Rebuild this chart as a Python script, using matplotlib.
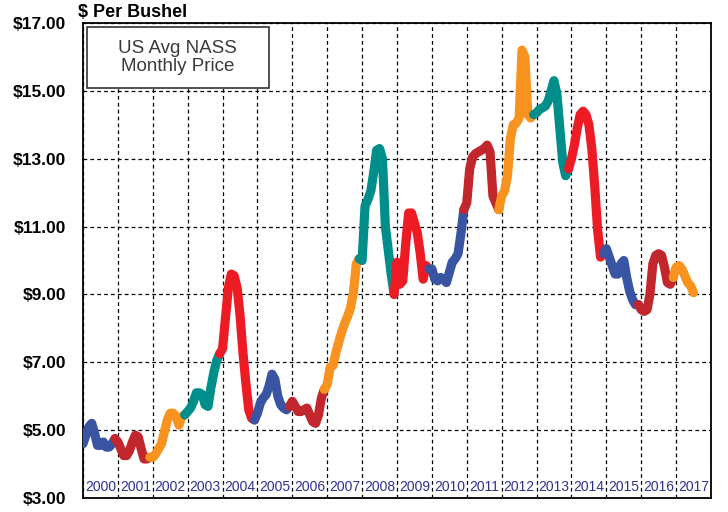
import matplotlib
matplotlib.use("Agg")
import matplotlib.pyplot as plt
from matplotlib.patches import Rectangle

plt.rcParams['font.family'] = ['Liberation Sans', 'DejaVu Sans']

# US average NASS monthly soybean price, $ per bushel (Jan..Dec)
p2000 = [4.60, 4.85, 5.10, 5.20, 4.90, 4.55, 4.55, 4.65, 4.50, 4.50, 4.60, 4.75]
p2001 = [4.65, 4.45, 4.25, 4.25, 4.40, 4.65, 4.85, 4.80, 4.45, 4.15, 4.15, 4.20]
p2002 = [4.20, 4.30, 4.45, 4.60, 4.95, 5.30, 5.50, 5.50, 5.40, 5.15, 5.40, 5.45]
p2003 = [5.55, 5.65, 5.85, 6.10, 6.10, 6.05, 5.75, 5.70, 6.25, 6.70, 7.05, 7.25]
p2004 = [7.40, 8.30, 9.20, 9.60, 9.55, 9.20, 8.40, 7.30, 6.40, 5.60, 5.35, 5.30]
p2005 = [5.50, 5.80, 5.95, 6.05, 6.30, 6.65, 6.50, 6.00, 5.75, 5.65, 5.60, 5.70]
p2006 = [5.85, 5.70, 5.55, 5.55, 5.60, 5.65, 5.45, 5.25, 5.20, 5.45, 5.95, 6.20]
p2007 = [6.35, 6.85, 6.90, 7.30, 7.60, 7.90, 8.15, 8.35, 8.60, 9.05, 9.90, 10.05]
p2008 = [10.00, 11.60, 11.80, 12.05, 12.60, 13.25, 13.30, 13.00, 11.00, 10.30, 9.60, 9.00]
p2009 = [9.95, 9.30, 9.40, 10.50, 11.40, 11.40, 11.10, 10.80, 10.20, 9.45, 9.85, 9.75]
p2010 = [9.75, 9.45, 9.40, 9.50, 9.45, 9.35, 9.65, 9.95, 10.05, 10.20, 10.80, 11.50]
p2011 = [11.70, 12.70, 13.05, 13.15, 13.20, 13.25, 13.30, 13.40, 13.20, 11.90, 11.70, 11.50]
p2012 = [11.90, 12.05, 12.50, 13.60, 14.00, 14.05, 14.20, 16.20, 16.00, 14.30, 14.20, 14.30]
p2013 = [14.35, 14.45, 14.50, 14.55, 14.70, 15.00, 15.30, 14.90, 13.90, 12.90, 12.50, 12.70]
p2014 = [13.00, 13.40, 13.90, 14.30, 14.40, 14.30, 14.00, 13.30, 12.20, 10.90, 10.10, 10.20]
p2015 = [10.35, 10.10, 9.85, 9.60, 9.60, 9.90, 10.00, 9.50, 9.10, 8.85, 8.70, 8.70]
p2016 = [8.55, 8.50, 8.55, 9.00, 9.90, 10.15, 10.20, 10.15, 9.80, 9.35, 9.30, 9.50]
p2017 = [9.80, 9.85, 9.75, 9.55, 9.35, 9.25, 9.05]

years = list(range(2000, 2018))
prices = [p2000, p2001, p2002, p2003, p2004, p2005, p2006, p2007, p2008,
          p2009, p2010, p2011, p2012, p2013, p2014, p2015, p2016, p2017]
colors = ['#3A54A4', '#C1272D', '#F7931E', '#008E8A', '#ED1C24']
y_ticks = [3, 5, 7, 9, 11, 13, 15, 17]

fig = plt.figure(figsize=(7.28, 5.12), dpi=100)
ax = fig.add_axes([83 / 728, 14 / 512, 628 / 728, 475 / 512])

for i, (yr, vals) in enumerate(zip(years, prices)):
    x = [yr + m / 12 for m in range(len(vals))]
    y = list(vals)
    if i > 0:
        # join onto December of the previous year
        x = [yr - 1 / 12] + x
        y = [prices[i - 1][-1]] + y
    ax.plot(x, y, color=colors[i % 5], lw=6.6, solid_capstyle='round',
            solid_joinstyle='round', zorder=3)
    ax.text(yr + 0.5, 3.32, str(yr), ha='center', va='center', fontsize=10,
            color='#2E3190', zorder=4)

ax.set_xlim(2000, 2018)
ax.set_ylim(3, 17)
ax.set_xticks(range(2000, 2019))
ax.set_xticklabels([])
ax.set_yticks(y_ticks)
ax.set_yticklabels(['$%.2f' % v for v in y_ticks], fontsize=12.5, fontweight='bold')
ax.tick_params(length=0, pad=12)
ax.grid(True, color='black', lw=0.9, linestyle=(0, (3, 2.5)), zorder=1)
for s in ax.spines.values():
    s.set_linewidth(1.3)

# legend-like box
ax.add_patch(Rectangle((0.0064, 0.863), 0.29, 0.129, transform=ax.transAxes,
                       facecolor='white', edgecolor='#333333', lw=1.2, zorder=5))
ax.text(0.151, 0.927, 'US Avg NASS\nMonthly Price', transform=ax.transAxes,
        ha='center', va='center', fontsize=13.5, color='#3A3A3A',
        linespacing=1.05, zorder=6)

fig.text(78 / 728, 1 - 17 / 512, '$ Per Bushel', fontsize=13, fontweight='bold',
         ha='left', va='baseline')

fig.savefig('out.png', dpi=100)
